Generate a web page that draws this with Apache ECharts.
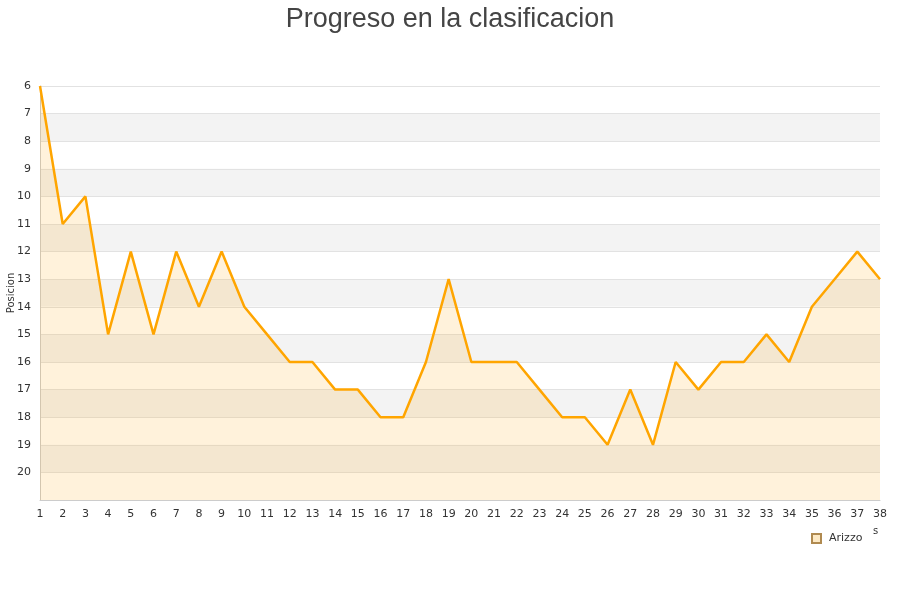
<!DOCTYPE html>
<html><head><meta charset="utf-8">
<script src="https://cdn.jsdelivr.net/npm/echarts@6/dist/echarts.min.js"></script>
<style>html,body{margin:0;padding:0;background:#fff}#c{width:900px;height:600px}</style>
</head><body><div id="c"></div>
<script>
const jornadas = ['1','2','3','4','5','6','7','8','9','10','11','12','13','14','15','16','17','18','19','20','21','22','23','24','25','26','27','28','29','30','31','32','33','34','35','36','37','38'];
const posiciones = [6,11,10,15,12,15,12,14,12,14,15,16,16,17,17,18,18,16,13,16,16,16,17,18,18,19,17,19,16,17,16,16,15,16,14,13,12,13];
const seriesName = 'Arizzo';
const chart = echarts.init(document.getElementById('c'));
chart.setOption({
  animation: false,
  title: { text: 'Progreso en la clasificacion', left: 'center', top: 1,
    textStyle: { fontFamily: 'Liberation Sans', fontSize: 27, fontWeight: 'normal', color: '#444' } },
  legend: { data: [seriesName], left: 806, top: 528, itemWidth: 9, itemHeight: 9, itemGap: 5,
    icon: 'rect', textStyle: { fontFamily: 'DejaVu Sans', fontSize: 11, color: '#333', padding: [0, 0, 0, 3] } },
  graphic: [{ type: 'text', left: 873, top: 526, style: { text: 's', font: '10px DejaVu Sans', fill: '#333' } }],
  grid: { left: 40, right: 20, top: 86, bottom: 100, containLabel: false, outerBoundsMode: 'none' },
  xAxis: { type: 'category', data: jornadas, boundaryGap: false,
    axisLine: { lineStyle: { color: '#ccc' } }, axisTick: { show: false },
    axisLabel: { fontFamily: 'DejaVu Sans', fontSize: 11, color: '#333', margin: 9, interval: 0 },
    splitLine: { show: false } },
  yAxis: { type: 'value', inverse: true, min: 6, max: 21, interval: 1,
    name: 'Posicion', nameLocation: 'middle', nameGap: 24, nameRotate: 90, nameMoveOverlap: false,
    nameTextStyle: { fontFamily: 'DejaVu Sans', fontSize: 10, color: '#333' },
    axisLine: { show: true, lineStyle: { color: '#ccc' } }, axisTick: { show: false },
    axisLabel: { fontFamily: 'DejaVu Sans', fontSize: 11, color: '#333', margin: 9,
      formatter: v => v >= 21 ? '' : String(v) },
    splitLine: { show: true, lineStyle: { color: '#e2e2e2' } },
    splitArea: { show: true, areaStyle: { color: ['#ffffff', '#f3f3f3'] } } },
  series: [{ name: seriesName, type: 'line', data: posiciones, symbol: 'none',
    itemStyle: { color: '#fde9c4', borderColor: '#b08a50', borderWidth: 1 },
    lineStyle: { color: '#ffa500', width: 2.5 },
    areaStyle: { color: 'rgba(255,165,0,0.2)', origin: 'end' } }]
});
</script></body></html>
